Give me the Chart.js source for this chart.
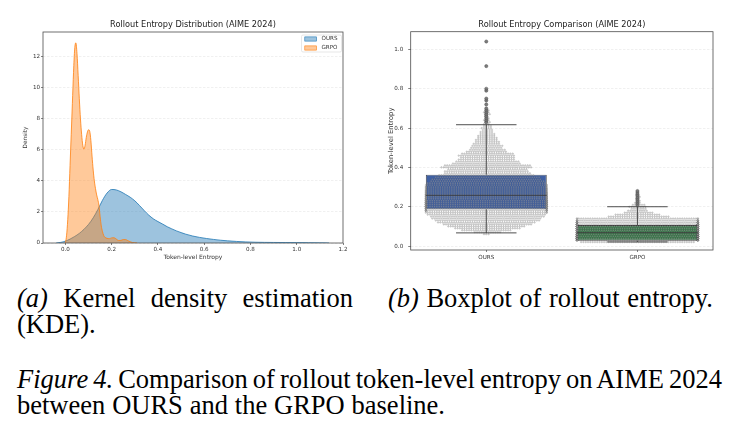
<!DOCTYPE html>
<html>
<head>
<meta charset="utf-8">
<title>Rollout entropy</title>
<script src="https://cdn.jsdelivr.net/npm/chart.js@4.4.1/dist/chart.umd.min.js"></script>
<style>
  html, body { margin: 0; padding: 0; background: #fff; }
  body { position: relative; width: 735px; height: 440px; overflow: hidden; }
  .panel { position: absolute; top: 0; height: 270px; }
  #kdePanel { left: 0; width: 370px; }
  #boxPanel { left: 370px; width: 365px; }
  .cap { position: absolute; white-space: nowrap; font-family: "Liberation Serif", "Times New Roman", serif; font-size: 26.5px; line-height: 26px; color: #000; }
</style>
</head>
<body>
<div class="panel" id="kdePanel"><canvas id="kdeChart"></canvas></div>
<div class="panel" id="boxPanel"><canvas id="boxChart"></canvas></div>
<!-- caption lines; data-w is the line width in the figure -->
<div class="cap" style="left:17px;top:285px" data-w="336"><i>(a)</i> Kernel density estimation</div>
<div class="cap" style="left:17px;top:311px">(KDE).</div>
<div class="cap" style="left:388px;top:285px" data-w="325"><i>(b)</i> Boxplot of rollout entropy.</div>
<div class="cap" style="left:17px;top:366px" data-w="705"><i>Figure 4.</i> Comparison of rollout token-level entropy on AIME 2024</div>
<div class="cap" style="left:17px;top:392px" data-w="428">between OURS and the GRPO baseline.</div>

<script>
// KDE curves
const kdeOursX = [-0.04, -0.02, 0.0, 0.02, 0.04, 0.06, 0.08, 0.10, 0.12, 0.14, 0.16, 0.18, 0.20, 0.22, 0.24, 0.26, 0.28, 0.30, 0.32, 0.34, 0.36, 0.38, 0.40, 0.42, 0.44, 0.46, 0.48, 0.50, 0.52, 0.55, 0.58, 0.61, 0.64, 0.67, 0.70, 0.74, 0.78, 0.82, 0.86, 0.90, 0.95, 1.00, 1.05, 1.10, 1.14];
const kdeOursY = [0, 0.04, 0.12, 0.25, 0.42, 0.62, 0.88, 1.2, 1.62, 2.15, 2.75, 3.22, 3.45, 3.42, 3.3, 3.13, 2.95, 2.72, 2.42, 2.1, 1.8, 1.56, 1.38, 1.22, 1.05, 0.91, 0.78, 0.67, 0.57, 0.45, 0.36, 0.29, 0.23, 0.18, 0.14, 0.1, 0.07, 0.05, 0.04, 0.035, 0.03, 0.025, 0.02, 0.01, 0];

const kdeGrpoX = [-0.003, 0.0, 0.005, 0.01, 0.015, 0.02, 0.025, 0.03, 0.035, 0.04, 0.045, 0.05, 0.055, 0.06, 0.065, 0.07, 0.075, 0.08, 0.085, 0.09, 0.095, 0.10, 0.105, 0.11, 0.115, 0.12, 0.125, 0.13, 0.135, 0.14, 0.145, 0.15, 0.155, 0.16, 0.165, 0.17, 0.18, 0.19, 0.20, 0.21, 0.22, 0.23, 0.24, 0.25, 0.26, 0.27, 0.28, 0.29, 0.30, 0.31];
const kdeGrpoY = [0, 0.05, 0.5, 1.5, 3.0, 5.0, 7.0, 9.0, 11.0, 12.5, 12.9, 12.2, 10.8, 9.3, 8.0, 7.0, 6.3, 6.05, 6.3, 6.8, 7.15, 7.3, 7.2, 6.6, 5.6, 4.7, 4.0, 3.5, 3.1, 2.8, 2.4, 1.7, 1.1, 0.75, 0.5, 0.38, 0.3, 0.28, 0.33, 0.34, 0.25, 0.16, 0.17, 0.22, 0.22, 0.15, 0.08, 0.03, 0.01, 0];

const kdeTicksX = [0, 0.2, 0.4, 0.6, 0.8, 1.0, 1.2];
const kdeTicksY = [0, 2, 4, 6, 8, 10, 12];

// boxplot panel
const categories = ['OURS', 'GRPO'];
const boxQ1 = [0.187, 0.027];
const boxMedian = [0.258, 0.068];
const boxQ3 = [0.363, 0.107];
const whiskerLow = [0.067, 0.021];
const whiskerHigh = [0.617, 0.200];
const fliersOurs = [0.63, 0.64, 0.65, 0.66, 0.67, 0.68, 0.69, 0.70, 0.72, 0.74, 0.75, 0.79, 0.80, 0.915, 1.04];
const fliersGrpo = [0.21, 0.22, 0.23, 0.24, 0.25, 0.26, 0.27, 0.28];
const boxTicksY = [0, 0.2, 0.4, 0.6, 0.8, 1.0];

// swarm: number of dots in each row, estimated from the swarm width
const swarmOursLevels = [0.06, 0.07, 0.08, 0.09, 0.10, 0.11, 0.12, 0.13, 0.14, 0.15, 0.16, 0.17, 0.18, 0.19, 0.20, 0.21, 0.22, 0.23, 0.24, 0.25, 0.26, 0.27, 0.28, 0.29, 0.30, 0.31, 0.32, 0.33, 0.34, 0.35, 0.36, 0.37, 0.38, 0.39, 0.40, 0.41, 0.42, 0.43, 0.44, 0.45, 0.46, 0.47, 0.48, 0.49, 0.50, 0.51, 0.52, 0.53, 0.54, 0.55, 0.56, 0.57, 0.58, 0.59, 0.60, 0.61, 0.62, 0.63, 0.64, 0.65, 0.66, 0.67, 0.68, 0.69, 0.70, 0.72, 0.74, 0.75, 0.79, 0.80, 0.915, 1.04];
const swarmOursCounts = [3, 12, 22, 29, 34, 39, 43, 46, 48, 50, 52, 55, 60, 64, 66, 67, 66, 65, 63, 62, 61, 60, 59, 58, 57, 55, 52, 50, 48, 46, 42, 38, 37, 35, 40, 38, 30, 28, 25, 24, 25, 23, 18, 16, 14, 14, 12, 11, 10, 9, 8, 7, 6, 5, 5, 4, 3, 3, 3, 2, 2, 3, 3, 2, 1, 1, 1, 1, 1, 1, 1, 1];
const swarmGrpoLevels = [0.02, 0.03, 0.04, 0.05, 0.06, 0.07, 0.08, 0.09, 0.10, 0.11, 0.12, 0.13, 0.14, 0.15, 0.16, 0.17, 0.18, 0.19, 0.20, 0.21, 0.22, 0.23, 0.24, 0.25, 0.26, 0.27, 0.28];
const swarmGrpoCounts = [50, 80, 95, 95, 85, 80, 80, 85, 85, 80, 70, 62, 56, 27, 20, 13, 9, 7, 8, 6, 3, 2, 2, 2, 2, 1, 1];

const boxHalf = 0.4;   // box width 0.8 of a category
const capHalf = 0.2;
const dotStep = 0.0152;

// stretch the word gaps of each caption line to its width in the figure
document.querySelectorAll('.cap[data-w]').forEach(el => {
    const gaps = el.textContent.split(' ').length - 1;
    const diff = Number(el.dataset.w) - el.getBoundingClientRect().width;
    el.style.wordSpacing = (diff / gaps) + 'px';
});

Chart.defaults.font.family = '"DejaVu Sans", sans-serif';
Chart.defaults.color = '#333';
Chart.defaults.animation = false;

// frame + centred axes title (matplotlib style)
const axesDecor = {
    id: 'axesDecor',
    afterDraw(chart, args, opts) {
        const ctx = chart.ctx, a = chart.chartArea;
        ctx.save();
        ctx.strokeStyle = '#4d4d4d';
        ctx.lineWidth = 0.8;
        ctx.strokeRect(a.left, a.top, a.right - a.left, a.bottom - a.top);
        ctx.fillStyle = '#222';
        ctx.font = opts.size + 'px "DejaVu Sans"';
        ctx.textAlign = 'center';
        ctx.textBaseline = 'middle';
        ctx.fillText(opts.text, (a.left + a.right) / 2, opts.y);
        ctx.restore();
    }
};

// legend box in the upper right corner of the plot
const kdeLegend = {
    id: 'kdeLegend',
    afterDraw(chart) {
        const ctx = chart.ctx, a = chart.chartArea;
        const items = chart.data.datasets;
        const x0 = a.right - 41.5, y0 = a.top + 3, w = 40, h = 17;
        ctx.save();
        ctx.fillStyle = 'rgba(255,255,255,0.85)';
        ctx.strokeStyle = '#d6d6d6';
        ctx.lineWidth = 0.6;
        ctx.beginPath();
        ctx.roundRect(x0, y0, w, h, 1.5);
        ctx.fill();
        ctx.stroke();
        ctx.font = '5.6px "DejaVu Sans"';
        ctx.textBaseline = 'middle';
        ctx.textAlign = 'left';
        items.forEach((ds, i) => {
            const cy = y0 + 4 + i * 9;
            ctx.fillStyle = ds.backgroundColor;
            ctx.fillRect(x0 + 3.3, cy - 2.1, 11.7, 4.2);
            ctx.strokeStyle = ds.borderColor;
            ctx.lineWidth = 0.6;
            ctx.strokeRect(x0 + 3.3, cy - 2.1, 11.7, 4.2);
            ctx.fillStyle = '#333';
            ctx.fillText(ds.label, x0 + 20, cy);
        });
        ctx.restore();
    }
};

// whiskers, caps and medians of the boxplot
const boxLines = {
    id: 'boxLines',
    afterDatasetsDraw(chart) {
        const ctx = chart.ctx, x = chart.scales.x, y = chart.scales.y;
        const line = (x1, y1, x2, y2) => {
            ctx.beginPath();
            ctx.moveTo(x1, y1);
            ctx.lineTo(x2, y2);
            ctx.stroke();
        };
        ctx.save();
        ctx.strokeStyle = '#3a3a3a';
        ctx.lineWidth = 0.9;
        categories.forEach((c, i) => {
            const cx = x.getPixelForValue(i);
            const capL = x.getPixelForValue(i - capHalf), capR = x.getPixelForValue(i + capHalf);
            const boxL = x.getPixelForValue(i - boxHalf), boxR = x.getPixelForValue(i + boxHalf);
            line(cx, y.getPixelForValue(boxQ3[i]), cx, y.getPixelForValue(whiskerHigh[i]));
            line(cx, y.getPixelForValue(boxQ1[i]), cx, y.getPixelForValue(whiskerLow[i]));
            line(capL, y.getPixelForValue(whiskerHigh[i]), capR, y.getPixelForValue(whiskerHigh[i]));
            line(capL, y.getPixelForValue(whiskerLow[i]), capR, y.getPixelForValue(whiskerLow[i]));
            line(boxL, y.getPixelForValue(boxMedian[i]), boxR, y.getPixelForValue(boxMedian[i]));
        });
        ctx.restore();
    }
};

// rows of dots side by side; dots that do not fit pile up at the box edge
function swarmPoints(center, levels, counts) {
    const pts = [];
    levels.forEach((lv, i) => {
        const n = counts[i];
        const shift = (i % 2) * dotStep / 2;
        for (let k = 0; k < n; k++) {
            let dx = (k - (n - 1) / 2) * dotStep + (n > 1 ? shift : 0);
            dx = Math.max(-boxHalf, Math.min(boxHalf, dx));
            pts.push({ x: center + dx, y: lv });
        }
    });
    return pts;
}

const tickFont = { size: 5.6 };
const dotFill = 'rgba(170,170,170,0.5)';
const dotEdge = 'rgba(85,85,85,0.45)';

new Chart(document.getElementById('kdeChart'), {
    type: 'line',
    data: {
        datasets: [{
            label: 'OURS',
            data: kdeOursX.map((v, i) => ({ x: v, y: kdeOursY[i] })),
            borderColor: '#1f77b4',
            backgroundColor: 'rgba(31,119,180,0.44)',
            borderWidth: 0.8,
            fill: 'origin',
            pointRadius: 0,
            cubicInterpolationMode: 'monotone',
            order: 2
        }, {
            label: 'GRPO',
            data: kdeGrpoX.map((v, i) => ({ x: v, y: kdeGrpoY[i] })),
            borderColor: '#ff7f0e',
            backgroundColor: 'rgba(255,127,14,0.42)',
            borderWidth: 0.8,
            fill: 'origin',
            pointRadius: 0,
            cubicInterpolationMode: 'monotone',
            order: 1
        }]
    },
    options: {
        responsive: true,
        maintainAspectRatio: false,
        layout: { autoPadding: false, padding: { left: 0, right: 27, top: 32, bottom: 0 } },
        plugins: {
            legend: { display: false },
            tooltip: { enabled: false },
            axesDecor: { text: 'Rollout Entropy Distribution (AIME 2024)', size: 8.2, y: 25 }
        },
        scales: {
            x: {
                type: 'linear',
                min: -0.097,
                max: 1.2,
                afterBuildTicks: s => { s.ticks = kdeTicksX.map(v => ({ value: v })); },
                afterFit: s => { s.height = 27; },
                ticks: { font: tickFont, padding: 1, maxRotation: 0, callback: v => v.toFixed(1) },
                grid: { drawOnChartArea: false, tickLength: 2, tickColor: '#4d4d4d', tickWidth: 0.7 },
                border: { display: false },
                title: { display: true, text: 'Token-level Entropy', font: { size: 6 }, padding: { top: 0, bottom: 9.2 } }
            },
            y: {
                min: 0,
                max: 13.6,
                afterBuildTicks: s => { s.ticks = kdeTicksY.map(v => ({ value: v })); },
                afterFit: s => { s.width = 43; },
                ticks: { font: tickFont, padding: 1, callback: v => String(v) },
                grid: { color: 'rgba(0,0,0,0.1)', lineWidth: 0.6, tickLength: 2, tickColor: '#4d4d4d', tickWidth: 0.7 },
                border: { display: false, dash: [2.5, 1.5] },
                title: { display: true, text: 'Density', font: { size: 5.8 }, padding: { top: 22.5, bottom: 0 } }
            }
        }
    },
    plugins: [axesDecor, kdeLegend]
});

new Chart(document.getElementById('boxChart'), {
    type: 'bar',
    data: {
        datasets: [{
            type: 'scatter',
            label: 'fliers',
            data: fliersOurs.map(v => ({ x: 0, y: v })).concat(fliersGrpo.map(v => ({ x: 1, y: v }))),
            pointRadius: 1.6,
            pointBackgroundColor: 'rgba(115,115,115,0.9)',
            pointBorderColor: 'rgba(70,70,70,0.9)',
            pointBorderWidth: 0.5,
            order: 0
        }, {
            type: 'scatter',
            label: 'OURS swarm',
            data: swarmPoints(0, swarmOursLevels, swarmOursCounts),
            pointRadius: 0.82,
            pointBackgroundColor: dotFill,
            pointBorderColor: dotEdge,
            pointBorderWidth: 0.35,
            order: 1
        }, {
            type: 'scatter',
            label: 'GRPO swarm',
            data: swarmPoints(1, swarmGrpoLevels, swarmGrpoCounts),
            pointRadius: 0.82,
            pointBackgroundColor: dotFill,
            pointBorderColor: dotEdge,
            pointBorderWidth: 0.35,
            order: 1
        }, {
            type: 'bar',
            label: 'box',
            data: categories.map((c, i) => ({ x: i, y: [boxQ1[i], boxQ3[i]] })),
            backgroundColor: ['#3f60a3', '#367a48'],
            borderColor: '#3a3a3a',
            borderWidth: 0.9,
            borderSkipped: false,
            categoryPercentage: 1,
            barPercentage: 2 * boxHalf,
            order: 3
        }]
    },
    options: {
        responsive: true,
        maintainAspectRatio: false,
        layout: { autoPadding: false, padding: { left: 0, right: 22, top: 31.7, bottom: 0 } },
        plugins: {
            legend: { display: false },
            tooltip: { enabled: false },
            axesDecor: { text: 'Rollout Entropy Comparison (AIME 2024)', size: 8.2, y: 25 }
        },
        scales: {
            x: {
                type: 'linear',
                min: -0.5,
                max: 1.5,
                offset: false,
                afterBuildTicks: s => { s.ticks = categories.map((c, i) => ({ value: i })); },
                afterFit: s => { s.height = 20; },
                ticks: { font: { size: 5.6 }, padding: 2.5, maxRotation: 0, callback: v => categories[v] },
                grid: { drawOnChartArea: false, offset: false, tickLength: 2, tickColor: '#4d4d4d', tickWidth: 0.7 },
                border: { display: false }
            },
            y: {
                min: -0.02,
                max: 1.09,
                afterBuildTicks: s => { s.ticks = boxTicksY.map(v => ({ value: v })); },
                afterFit: s => { s.width = 40.7; },
                ticks: { font: { size: 5.6 }, padding: 5, callback: v => v.toFixed(1) },
                grid: { color: 'rgba(0,0,0,0.1)', lineWidth: 0.6, tickLength: 2.5, tickColor: '#4d4d4d', tickWidth: 0.7 },
                border: { display: false, dash: [2.5, 1.5] },
                title: { display: true, text: 'Token-level Entropy', font: { size: 6.8 }, padding: { top: 17.5, bottom: 0 } }
            }
        }
    },
    plugins: [axesDecor, boxLines]
});
</script>
</body>
</html>
